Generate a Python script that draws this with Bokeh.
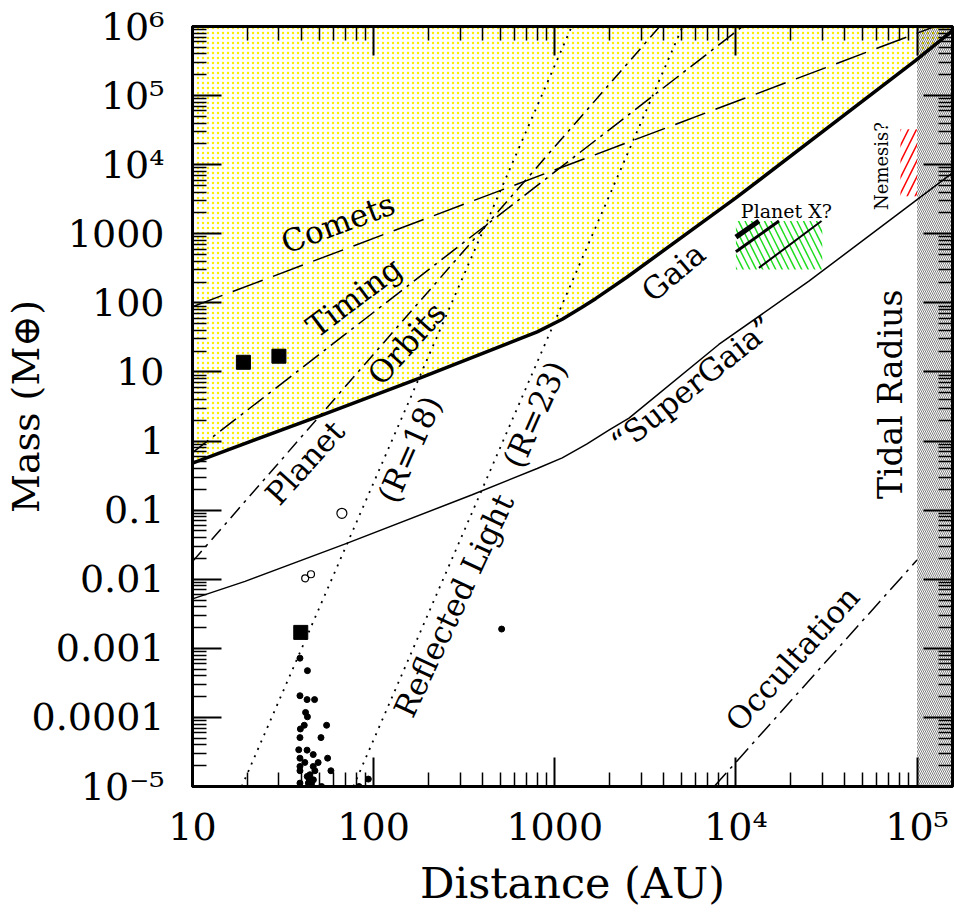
from math import radians
from bokeh.plotting import figure
from bokeh.models import FixedTicker, LogAxis, Range1d
from bokeh.core.properties import value
from bokeh.embed import file_html
from bokeh.resources import INLINE

# ---------------- data (distance in AU, mass in Earth masses) ----------------
x_ticks = [10, 100, 1000, 1e4, 1e5]
x_tick_labels = ["10", "100", "1000", "10\u2074", "10\u2075"]
y_ticks = [1e-5, 1e-4, 1e-3, 1e-2, 1e-1, 1, 10, 100, 1000, 1e4, 1e5, 1e6]
y_tick_labels = ["10\u207b\u2075", "0.0001", "0.001", "0.01", "0.1", "1", "10",
                 "100", "1000", "10\u2074", "10\u2075", "10\u2076"]

gaia_d = [10, 50, 181, 800, 1100, 1400, 1680, 2500, 10000, 98000, 157000]
gaia_m = [0.48, 2.3, 8.2, 38, 58, 85, 115, 235, 3300, 3.2e5, 8.7e5]
supergaia_d = [10, 19.5, 71, 350, 800, 1100, 1500, 2000, 2570, 8050, 25300, 98000, 157000]
supergaia_m = [0.0052, 0.0093, 0.033, 0.167, 0.40, 0.57, 0.90, 1.45, 2.15, 25, 206, 3000, 7600]
comets_d = [10, 157000]
comets_m = [88, 1.25e6]
timing_d = [10, 12000]
timing_m = [0.68, 1.22e6]
orbits_d = [10, 3800]
orbits_m = [0.018, 1.0e6]
r18_d = [18.7, 1240]
r18_m = [1e-5, 1e6]
r23_d = [77.3, 5080]
r23_m = [1e-5, 1e6]
occult_d = [7590, 100000]
occult_m = [1e-5, 0.019]

tidal_d = [1e5, 1.57e5]
planetx_d = [1e4, 3e4]
planetx_m = [305, 1530]
planetx_lines_d = [[1.0e4, 1.34e4], [1.0e4, 1.73e4], [1.34e4, 2.97e4]]
planetx_lines_m = [[895, 1530], [548, 1530], [321, 1530]]
nemesis_d = [8.1e4, 1e5]
nemesis_m = [3500, 32600]

planets_d = [19.1, 30.0, 39.6]
planets_m = [13.8, 16.9, 0.0017]
open_d = [66.8, 41.9, 45.1]
open_m = [0.09, 0.0103, 0.0118]
kbo_d = [39.2, 43.1, 39.2, 42.9, 47.2, 42.1, 43.1, 55.0, 41.4, 39.4, 51.2, 39.2,
         38.6, 42.9, 46.4, 39.2, 55.7, 41.7, 49.4, 39.2, 46.4, 58.1, 39.2, 47.4,
         44.5, 39.2, 43.6, 45.4, 51.6, 93.5, 83.0, 509, 44.0, 45.5, 44.5, 46.5, 43.0]
kbo_m = [7.2e-4, 4.75e-4, 2.06e-4, 1.81e-4, 1.81e-4, 1.18e-4, 1.02e-4, 7.7e-5,
         7.7e-5, 6.8e-5, 5.1e-5, 5.1e-5, 3.4e-5, 3.36e-5, 2.9e-5, 2.57e-5, 2.57e-5,
         2.23e-5, 2.22e-5, 1.95e-5, 1.95e-5, 1.69e-5, 1.69e-5, 1.69e-5, 1.48e-5,
         1.12e-5, 1.12e-5, 1.03e-5, 1.0e-5, 1.28e-5, 1.0e-5, 1.9e-3, 1.3e-5,
         1.15e-5, 1.05e-5, 1.25e-5, 1.4e-5]

# annotation texts: (text, distance, mass, angle in degrees, font px)
annotations = [
    ("Comets", 63.5, 1430, 20.5, 31),
    ("Timing", 77.8, 121, 37, 31),
    ("Orbits", 152, 26, 48, 31),
    ("Planet", 41.7, 0.49, 48, 31),
    ("(R=18)", 158, 0.76, 66, 31),
    ("(R=23)", 778, 2.44, 66, 31),
    ("Reflected Light", 277, 0.00416, 65, 31),
    ("Gaia", 4510, 279, 40, 31),
    ("\u201cSuperGaia\u201d", 5740, 6.6, 38.7, 31),
    ("Tidal Radius", 71300, 4.75, 90, 33),
    ("Occultation", 20500, 7.1e-4, 48, 31),
    ("Planet X?", 19000, 2170, 0, 19),
    ("Nemesis?", 63500, 9570, 90, 18),
]

FONT = "DejaVu Serif"
X_MIN, X_MAX = 10, 1.57e5
Y_MIN, Y_MAX = 1e-5, 1e6

p = figure(x_axis_type="log", y_axis_type="log",
           x_range=Range1d(X_MIN, X_MAX), y_range=Range1d(Y_MIN, Y_MAX),
           frame_width=760, frame_height=760,
           min_border_left=191, min_border_right=3, min_border_top=26, min_border_bottom=127,
           output_backend="svg", toolbar_location=None,
           background_fill_color="white", border_fill_color="white")
p.grid.visible = False
p.outline_line_color = "black"
p.outline_line_width = 3


def minor_list(lo, hi):
    out = []
    for e in range(-6, 7):
        for k in range(2, 10):
            v = k * 10.0 ** e
            if lo < v < hi:
                out.append(v)
    return out


x_ticker = FixedTicker(ticks=x_ticks, minor_ticks=minor_list(X_MIN, X_MAX))
y_ticker = FixedTicker(ticks=y_ticks, minor_ticks=minor_list(Y_MIN, Y_MAX))


def style_axis(ax, ticker, overrides, font_size, standoff):
    ax.ticker = ticker
    ax.major_label_overrides = overrides
    ax.major_tick_in = 29
    ax.major_tick_out = 0
    ax.minor_tick_in = 14
    ax.minor_tick_out = 0
    ax.major_tick_line_width = 2
    ax.minor_tick_line_width = 1.5
    ax.axis_line_width = 3
    ax.major_label_text_font = FONT
    ax.major_label_text_font_size = font_size
    ax.major_label_standoff = standoff
    ax.major_label_text_color = "black"
    ax.axis_label_text_color = "black"
    ax.axis_label_text_font = FONT
    ax.axis_label_text_font_style = "normal"


style_axis(p.xaxis[0], x_ticker, {float(t): s for t, s in zip(x_ticks, x_tick_labels)}, "38px", 18)
style_axis(p.yaxis[0], y_ticker, {float(t): s for t, s in zip(y_ticks, y_tick_labels)}, "38px", 28)
p.xaxis[0].axis_label = "Distance (AU)"
p.xaxis[0].axis_label_text_font_size = "43px"
p.xaxis[0].axis_label_standoff = 6
p.yaxis[0].axis_label = "Mass (M\u2295)"
p.yaxis[0].axis_label_text_font_size = "38px"
p.yaxis[0].axis_label_standoff = -19

top_ax = LogAxis()
style_axis(top_ax, x_ticker, {float(t): "" for t in x_ticks}, "1px", 0)
right_ax = LogAxis()
style_axis(right_ax, y_ticker, {float(t): "" for t in y_ticks}, "1px", 0)
p.add_layout(top_ax, "above")
p.add_layout(right_ax, "right")

# yellow excluded region above the Gaia curve
p.varea(x=gaia_d, y1=gaia_m, y2=[Y_MAX] * len(gaia_d), fill_color="white", fill_alpha=0,
        hatch_pattern="dot", hatch_color="#ffee00", hatch_scale=5, hatch_weight=0.5)

# tidal radius hatch
p.quad(left=[tidal_d[0]], right=[tidal_d[1]], bottom=[Y_MIN], top=[Y_MAX],
       fill_alpha=0, line_color=None, hatch_pattern="\\", hatch_color="black",
       hatch_scale=4, hatch_weight=0.5)

# Planet X and Nemesis regions
p.quad(left=[planetx_d[0]], right=[planetx_d[1]], bottom=[planetx_m[0]], top=[planetx_m[1]],
       fill_alpha=0, line_color=None, hatch_pattern="\\", hatch_color="#22dd22",
       hatch_scale=13, hatch_weight=1.5)
p.quad(left=[nemesis_d[0]], right=[nemesis_d[1]], bottom=[nemesis_m[0]], top=[nemesis_m[1]],
       fill_alpha=0, line_color=None, hatch_pattern="/", hatch_color="red",
       hatch_scale=16, hatch_weight=1.5)
for xs, ys, w in zip(planetx_lines_d, planetx_lines_m, [5, 3, 2]):
    p.line(xs, ys, line_color="black", line_width=w)

# constraint curves
p.line(gaia_d, gaia_m, line_color="black", line_width=3.5)
p.line(supergaia_d, supergaia_m, line_color="black", line_width=1.5)
p.line(comets_d, comets_m, line_color="black", line_width=1.5, line_dash="32 11")
p.line(timing_d, timing_m, line_color="black", line_width=1.5, line_dash="20 6 3 6")
p.line(orbits_d, orbits_m, line_color="black", line_width=1.5, line_dash="14 6 3 6")
p.line(r18_d, r18_m, line_color="black", line_width=1.8, line_dash="2 6")
p.line(r23_d, r23_m, line_color="black", line_width=1.8, line_dash="2 6")
p.line(occult_d, occult_m, line_color="black", line_width=1.5, line_dash="18 6 3 6")

# bodies
p.scatter(kbo_d, kbo_m, marker="circle", size=6, color="black")
p.scatter(planets_d, planets_m, marker="square", size=14, color="black")
p.scatter(open_d, open_m, marker="circle", size=[10, 7, 7], fill_color=None,
          line_color="black", line_width=1.2)

# texts
for txt, xd, ym, ang, fs in annotations:
    p.text(x=[xd], y=[ym], text=[txt], angle=radians(ang), text_align="center",
           text_baseline="middle", text_font=value(FONT), text_font_size=f"{fs}px",
           text_color="black")

open("out.html", "w").write(file_html(p, INLINE))
